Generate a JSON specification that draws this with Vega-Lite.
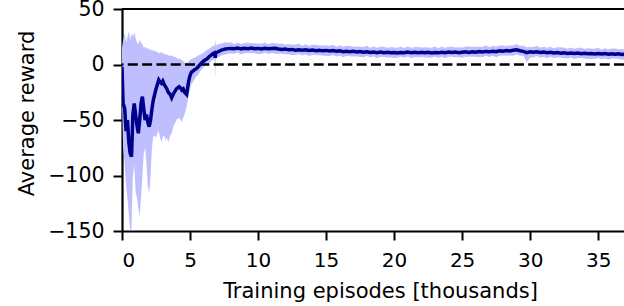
{
  "$schema": "https://vega.github.io/schema/vega-lite/v6.json",
  "width": 502,
  "height": 222,
  "autosize": {"type": "none"},
  "padding": {"left": 122, "top": 9, "right": 0, "bottom": 75},
  "config": {
    "view": {"stroke": null},
    "font": "DejaVu Sans",
    "axis": {
      "labelFont": "DejaVu Sans", "labelFontSize": 20.5, "labelColor": "#000",
      "titleFont": "DejaVu Sans", "titleFontSize": 21, "titleFontWeight": "normal", "titleColor": "#000",
      "tickColor": "#000", "tickSize": 9, "tickWidth": 2, "domainColor": "#000", "domainWidth": 2.2,
      "grid": false
    }
  },
  "data": {"values": [
    {"x":0.0,"m":-2,"lo":-30,"hi":15},
    {"x":0.08,"m":-35,"lo":-75,"hi":22},
    {"x":0.2,"m":-40,"lo":-90,"hi":28},
    {"x":0.3,"m":-60,"lo":-110,"hi":20},
    {"x":0.4,"m":-50,"lo":-120,"hi":25},
    {"x":0.5,"m":-70,"lo":-135,"hi":30},
    {"x":0.6,"m":-80,"lo":-150,"hi":22},
    {"x":0.7,"m":-83,"lo":-148,"hi":28},
    {"x":0.8,"m":-45,"lo":-100,"hi":25},
    {"x":0.9,"m":-35,"lo":-90,"hi":29},
    {"x":1.0,"m":-45,"lo":-115,"hi":24},
    {"x":1.1,"m":-55,"lo":-120,"hi":20},
    {"x":1.2,"m":-62,"lo":-130,"hi":18},
    {"x":1.3,"m":-50,"lo":-137,"hi":22},
    {"x":1.4,"m":-35,"lo":-120,"hi":20},
    {"x":1.5,"m":-29,"lo":-100,"hi":18},
    {"x":1.6,"m":-40,"lo":-80,"hi":15},
    {"x":1.7,"m":-50,"lo":-75,"hi":16},
    {"x":1.8,"m":-45,"lo":-90,"hi":14},
    {"x":1.9,"m":-52,"lo":-110,"hi":15},
    {"x":2.0,"m":-56,"lo":-116,"hi":13},
    {"x":2.1,"m":-50,"lo":-100,"hi":14},
    {"x":2.2,"m":-40,"lo":-75,"hi":12},
    {"x":2.3,"m":-32,"lo":-65,"hi":13},
    {"x":2.4,"m":-27,"lo":-64,"hi":12},
    {"x":2.5,"m":-22,"lo":-66,"hi":12},
    {"x":2.6,"m":-18,"lo":-62,"hi":11},
    {"x":2.7,"m":-14,"lo":-60,"hi":10},
    {"x":2.8,"m":-16,"lo":-66,"hi":11},
    {"x":2.9,"m":-17,"lo":-70,"hi":11},
    {"x":3.0,"m":-15,"lo":-65,"hi":10},
    {"x":3.1,"m":-18,"lo":-64,"hi":10},
    {"x":3.2,"m":-20,"lo":-68,"hi":9},
    {"x":3.3,"m":-22,"lo":-66,"hi":9},
    {"x":3.4,"m":-25,"lo":-70,"hi":8},
    {"x":3.55,"m":-27,"lo":-64,"hi":8},
    {"x":3.65,"m":-30,"lo":-62,"hi":8},
    {"x":3.8,"m":-26,"lo":-55,"hi":7},
    {"x":3.9,"m":-24,"lo":-53,"hi":7},
    {"x":4.0,"m":-22,"lo":-50,"hi":6},
    {"x":4.2,"m":-20,"lo":-48,"hi":5},
    {"x":4.3,"m":-21,"lo":-50,"hi":5},
    {"x":4.4,"m":-23,"lo":-52,"hi":4},
    {"x":4.5,"m":-22,"lo":-48,"hi":3},
    {"x":4.6,"m":-25,"lo":-45,"hi":2},
    {"x":4.75,"m":-27,"lo":-38,"hi":1},
    {"x":4.9,"m":-15,"lo":-28,"hi":3},
    {"x":5.0,"m":-10,"lo":-22,"hi":4},
    {"x":5.1,"m":-7,"lo":-18,"hi":5},
    {"x":5.3,"m":-5,"lo":-14,"hi":6},
    {"x":5.45,"m":-4,"lo":-11,"hi":7},
    {"x":5.6,"m":-2,"lo":-9,"hi":8},
    {"x":5.75,"m":0,"lo":-6,"hi":9},
    {"x":5.9,"m":2,"lo":-4,"hi":10},
    {"x":6.1,"m":4,"lo":-1,"hi":12},
    {"x":6.25,"m":5,"lo":0,"hi":13},
    {"x":6.4,"m":7,"lo":1,"hi":14},
    {"x":6.55,"m":8.5,"lo":3,"hi":15.5},
    {"x":6.7,"m":10,"lo":4,"hi":17},
    {"x":6.8,"m":10.5,"lo":5,"hi":17},
    {"x":6.85,"m":6,"lo":-12,"hi":22},
    {"x":6.9,"m":10.5,"lo":5,"hi":17},
    {"x":7.0,"m":11,"lo":6,"hi":18},
    {"x":7.15,"m":12,"lo":7,"hi":18.5},
    {"x":7.3,"m":13,"lo":8,"hi":19},
    {"x":7.45,"m":13.4,"lo":8.6,"hi":19.5},
    {"x":7.6,"m":14,"lo":9,"hi":20},
    {"x":7.8,"m":14.3,"lo":9.6,"hi":19.6},
    {"x":8.0,"m":14.5,"lo":10,"hi":20},
    {"x":8.25,"m":14.2,"lo":9.6,"hi":18.4},
    {"x":8.5,"m":14.8,"lo":10.7,"hi":19.8},
    {"x":8.75,"m":14.1,"lo":9.1,"hi":18.5},
    {"x":9,"m":14.6,"lo":10.2,"hi":19.4},
    {"x":9.25,"m":14.3,"lo":10.4,"hi":19.6},
    {"x":9.5,"m":14.9,"lo":10.3,"hi":19.1},
    {"x":9.75,"m":14.2,"lo":10.1,"hi":19.2},
    {"x":10,"m":14.5,"lo":9.5,"hi":18.9},
    {"x":10.25,"m":13.9,"lo":9.5,"hi":18.7},
    {"x":10.5,"m":14.6,"lo":10.7,"hi":19.9},
    {"x":10.75,"m":14.1,"lo":9.5,"hi":18.3},
    {"x":11,"m":14.4,"lo":10.3,"hi":19.4},
    {"x":11.25,"m":14.7,"lo":9.7,"hi":19.1},
    {"x":11.5,"m":14.0,"lo":9.6,"hi":18.8},
    {"x":11.75,"m":13.6,"lo":9.7,"hi":18.9},
    {"x":12,"m":13.9,"lo":9.3,"hi":18.1},
    {"x":12.25,"m":13.2,"lo":9.1,"hi":18.2},
    {"x":12.5,"m":13.6,"lo":8.6,"hi":18.0},
    {"x":12.75,"m":12.9,"lo":8.5,"hi":17.7},
    {"x":13,"m":13.3,"lo":9.4,"hi":18.6},
    {"x":13.25,"m":12.8,"lo":8.2,"hi":17.0},
    {"x":13.5,"m":13.2,"lo":9.1,"hi":18.2},
    {"x":13.75,"m":12.6,"lo":7.6,"hi":17.0},
    {"x":14,"m":13.0,"lo":8.6,"hi":17.8},
    {"x":14.25,"m":12.4,"lo":8.5,"hi":17.7},
    {"x":14.5,"m":12.9,"lo":8.3,"hi":17.1},
    {"x":14.75,"m":12.3,"lo":8.2,"hi":17.3},
    {"x":15,"m":12.7,"lo":7.7,"hi":17.1},
    {"x":15.25,"m":12.1,"lo":7.7,"hi":16.9},
    {"x":15.5,"m":12.5,"lo":8.6,"hi":17.8},
    {"x":15.75,"m":11.9,"lo":7.3,"hi":16.1},
    {"x":16,"m":12.3,"lo":8.2,"hi":17.3},
    {"x":16.25,"m":11.6,"lo":6.6,"hi":16.0},
    {"x":16.5,"m":12.0,"lo":7.6,"hi":16.8},
    {"x":16.75,"m":11.4,"lo":7.5,"hi":16.7},
    {"x":17,"m":11.9,"lo":7.3,"hi":16.1},
    {"x":17.25,"m":11.3,"lo":7.2,"hi":16.3},
    {"x":17.5,"m":11.7,"lo":6.7,"hi":16.1},
    {"x":17.75,"m":11.0,"lo":6.6,"hi":15.8},
    {"x":18,"m":11.5,"lo":7.6,"hi":16.8},
    {"x":18.25,"m":10.9,"lo":6.3,"hi":15.1},
    {"x":18.5,"m":11.3,"lo":7.2,"hi":16.3},
    {"x":18.75,"m":10.7,"lo":5.7,"hi":15.1},
    {"x":19,"m":11.2,"lo":6.8,"hi":16.0},
    {"x":19.25,"m":10.6,"lo":6.7,"hi":15.9},
    {"x":19.5,"m":11.0,"lo":6.4,"hi":15.2},
    {"x":19.75,"m":10.5,"lo":6.4,"hi":15.5},
    {"x":20,"m":10.9,"lo":5.9,"hi":15.3},
    {"x":20.25,"m":10.4,"lo":6.0,"hi":15.2},
    {"x":20.5,"m":10.9,"lo":7.0,"hi":16.2},
    {"x":20.75,"m":10.6,"lo":6.0,"hi":14.8},
    {"x":21,"m":11.2,"lo":7.1,"hi":16.2},
    {"x":21.25,"m":10.7,"lo":5.7,"hi":15.1},
    {"x":21.5,"m":11.0,"lo":6.6,"hi":15.8},
    {"x":21.75,"m":10.5,"lo":6.6,"hi":15.8},
    {"x":22,"m":11.1,"lo":6.5,"hi":15.3},
    {"x":22.25,"m":10.6,"lo":6.5,"hi":15.6},
    {"x":22.5,"m":11.0,"lo":6.0,"hi":15.4},
    {"x":22.75,"m":10.4,"lo":6.0,"hi":15.2},
    {"x":23,"m":10.9,"lo":7.0,"hi":16.2},
    {"x":23.25,"m":10.5,"lo":5.9,"hi":14.7},
    {"x":23.5,"m":11.1,"lo":7.0,"hi":16.1},
    {"x":23.75,"m":10.7,"lo":5.7,"hi":15.1},
    {"x":24,"m":11.3,"lo":6.9,"hi":16.1},
    {"x":24.25,"m":10.8,"lo":6.9,"hi":16.1},
    {"x":24.5,"m":11.2,"lo":6.6,"hi":15.4},
    {"x":24.75,"m":10.6,"lo":6.5,"hi":15.6},
    {"x":25,"m":11.0,"lo":6.0,"hi":15.4},
    {"x":25.25,"m":11.4,"lo":7.0,"hi":16.2},
    {"x":25.5,"m":10.9,"lo":7.0,"hi":16.2},
    {"x":25.75,"m":11.5,"lo":6.9,"hi":15.7},
    {"x":26,"m":11.0,"lo":6.9,"hi":16.0},
    {"x":26.25,"m":11.6,"lo":6.6,"hi":16.0},
    {"x":26.5,"m":11.2,"lo":6.8,"hi":16.0},
    {"x":26.75,"m":11.8,"lo":7.9,"hi":17.1},
    {"x":27,"m":11.4,"lo":6.8,"hi":15.6},
    {"x":27.25,"m":12.0,"lo":7.9,"hi":17.0},
    {"x":27.5,"m":11.6,"lo":6.6,"hi":16.0},
    {"x":27.75,"m":12.3,"lo":7.9,"hi":17.1},
    {"x":28,"m":11.9,"lo":8.0,"hi":17.2},
    {"x":28.25,"m":12.5,"lo":7.9,"hi":16.7},
    {"x":28.5,"m":12.1,"lo":8.0,"hi":17.1},
    {"x":28.75,"m":12.8,"lo":7.8,"hi":17.2},
    {"x":29,"m":13.3,"lo":8.9,"hi":18.5},
    {"x":29.25,"m":12.4,"lo":7.8,"hi":16.6},
    {"x":29.5,"m":11.8,"lo":7.9,"hi":17.1},
    {"x":29.75,"m":10.6,"lo":2.0,"hi":15.6},
    {"x":30,"m":11.4,"lo":6.4,"hi":15.8},
    {"x":30.25,"m":11.0,"lo":6.6,"hi":15.8},
    {"x":30.5,"m":11.5,"lo":7.6,"hi":16.8},
    {"x":30.75,"m":10.8,"lo":6.2,"hi":15.0},
    {"x":31,"m":11.2,"lo":6.8,"hi":16.0},
    {"x":31.25,"m":10.6,"lo":5.6,"hi":15.0},
    {"x":31.5,"m":11.0,"lo":6.9,"hi":16.0},
    {"x":31.75,"m":10.4,"lo":5.8,"hi":14.6},
    {"x":32,"m":10.8,"lo":6.4,"hi":15.6},
    {"x":32.25,"m":10.2,"lo":6.3,"hi":15.5},
    {"x":32.5,"m":10.6,"lo":5.6,"hi":15.0},
    {"x":32.75,"m":10.0,"lo":5.4,"hi":14.2},
    {"x":33,"m":10.4,"lo":6.3,"hi":15.4},
    {"x":33.25,"m":9.9,"lo":4.9,"hi":14.3},
    {"x":33.5,"m":10.3,"lo":5.9,"hi":15.1},
    {"x":33.75,"m":9.7,"lo":5.8,"hi":15.0},
    {"x":34,"m":10.1,"lo":5.5,"hi":14.3},
    {"x":34.25,"m":9.6,"lo":5.0,"hi":14.6},
    {"x":34.5,"m":10.0,"lo":5.0,"hi":14.4},
    {"x":34.75,"m":9.5,"lo":5.1,"hi":14.3},
    {"x":35,"m":9.9,"lo":5.8,"hi":15.2},
    {"x":35.25,"m":9.4,"lo":4.8,"hi":13.6},
    {"x":35.5,"m":9.8,"lo":5.4,"hi":14.6},
    {"x":35.75,"m":9.3,"lo":4.3,"hi":13.7},
    {"x":36,"m":9.7,"lo":5.3,"hi":14.5},
    {"x":36.25,"m":9.2,"lo":5.3,"hi":14.5},
    {"x":36.5,"m":9.6,"lo":5.0,"hi":13.8},
    {"x":36.75,"m":9.1,"lo":4.5,"hi":13.9},
    {"x":37,"m":9.3,"lo":4.3,"hi":13.7}
  ]},
  "layer": [
    {
      "mark": {"type": "area", "color": "#bfbfff", "opacity": 1, "clip": true},
      "encoding": {
        "x": {"field": "x", "type": "quantitative",
          "scale": {"domain": [0, 36.9], "nice": false, "zero": false},
          "axis": {"title": "Training episodes [thousands]", "values": [0,5,10,15,20,25,30,35],
            "labelBaseline": "alphabetic", "labelPadding": 26, "labelFontSize": 20,
            "titleX": 258, "titleY": 66, "titleBaseline": "alphabetic", "titleFontSize": 21, "titleAnchor": null}},
        "y": {"field": "lo", "type": "quantitative",
          "scale": {"domain": [-150, 50], "nice": false},
          "axis": {"title": "Average reward", "values": [-150,-100,-50,0,50], "labelPadding": 9,
            "labelExpr": "replace(datum.label, /[-\u2212]/, '\u2212')",
            "titleAngle": -90, "titleX": -89, "titleY": 104, "titleAlign": "center", "titleBaseline": "alphabetic", "titleFontSize": 21}},
        "y2": {"field": "hi"}
      }
    },
    {
      "data": {"values": [{}]},
      "mark": {"type": "rule", "color": "#000", "strokeWidth": 2.5, "strokeDash": [10, 4.3]},
      "encoding": {"y": {"datum": 0}}
    },
    {
      "mark": {"type": "line", "color": "#00008b", "strokeWidth": 3.5, "clip": true},
      "encoding": {
        "x": {"field": "x", "type": "quantitative"},
        "y": {"field": "m", "type": "quantitative"}
      }
    },
    {
      "data": {"values": [{}]},
      "mark": {"type": "rule", "color": "#000", "strokeWidth": 2.2},
      "encoding": {"y": {"datum": 50}}
    }
  ]
}
